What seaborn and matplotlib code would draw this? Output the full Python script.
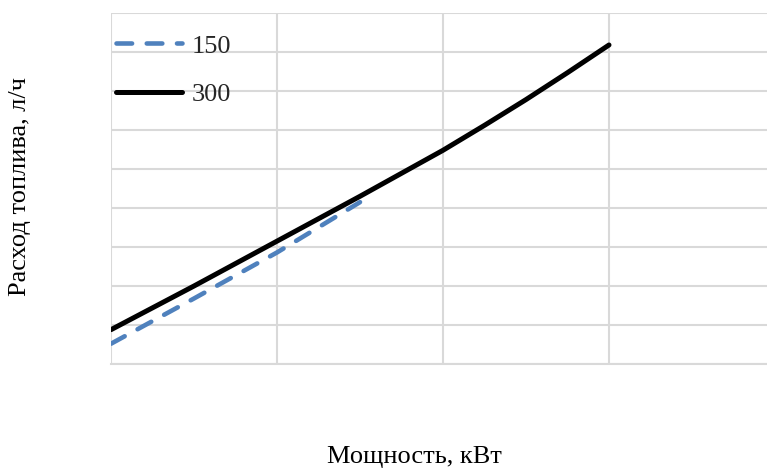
import matplotlib
matplotlib.use("Agg")
import matplotlib.pyplot as plt
import seaborn as sns
import pandas as pd

# Data (grid units; the original chart has no tick labels)
x150 = [0.0, 0.5, 1.0, 1.5]
y150 = [0.52, 1.68, 2.86, 4.15]
x300 = [0.0, 0.5, 1.0, 1.5, 2.0, 2.25, 2.5, 2.75, 3.0]
y300 = [0.88, 2.00, 3.15, 4.30, 5.48, 6.12, 6.78, 7.47, 8.18]
series_labels = ["150", "300"]
x_label = "Мощность, кВт"
y_label = "Расход топлива, л/ч"

sns.set_theme(style="white")
plt.rcParams['font.family'] = ['Liberation Serif', 'DejaVu Serif']

W, H = 767, 469
fig = plt.figure(figsize=(W / 100, H / 100), dpi=100)
left, right, top, bottom = 111, 775, 13, 364
ax = fig.add_axes([left / W, 1 - bottom / H, (right - left) / W, (bottom - top) / H])

df150 = pd.DataFrame({"x": x150, "y": y150})
df300 = pd.DataFrame({"x": x300, "y": y300})

sns.lineplot(data=df150, x="x", y="y", ax=ax, color="#4F81BD", linewidth=3.3,
             label=series_labels[0])
ln = ax.lines[-1]
ln.set_dashes([3.4, 3.2])
ln.set_dash_capstyle("round")
sns.lineplot(data=df300, x="x", y="y", ax=ax, color="black", linewidth=3.6,
             label=series_labels[1])
ax.lines[-1].set_solid_capstyle("round")

ax.set_xlim(0, 4)
ax.set_ylim(0, 9)
ax.set_xticks([0, 1, 2, 3, 4])
ax.set_yticks(range(0, 10))
ax.set_xticklabels([])
ax.set_yticklabels([])
ax.tick_params(length=0)
ax.grid(True, color="#d9d9d9", linewidth=1.5)
ax.set_axisbelow(True)
for s in ["top", "right", "left"]:
    ax.spines[s].set_visible(False)
ax.spines["bottom"].set_color("#d9d9d9")
ax.spines["bottom"].set_linewidth(1.5)
ax.set_xlabel("")
ax.set_ylabel("")

leg = ax.legend(loc="upper left", bbox_to_anchor=(0.0, 0.955), frameon=False,
                fontsize=19, handlelength=2.5, handletextpad=0.35,
                labelspacing=0.95, borderaxespad=0.0, borderpad=0.2)
for h in leg.get_lines():
    h.set_dash_capstyle("round")
    h.set_solid_capstyle("round")

fig.text(414 / W, 1 - 457 / H, x_label, ha="center", va="center", fontsize=19, color="black")
fig.text(20 / W, 1 - 186 / H, y_label, ha="center", va="center", rotation=90,
         fontsize=19, color="black")

fig.savefig("out.png", dpi=100)
